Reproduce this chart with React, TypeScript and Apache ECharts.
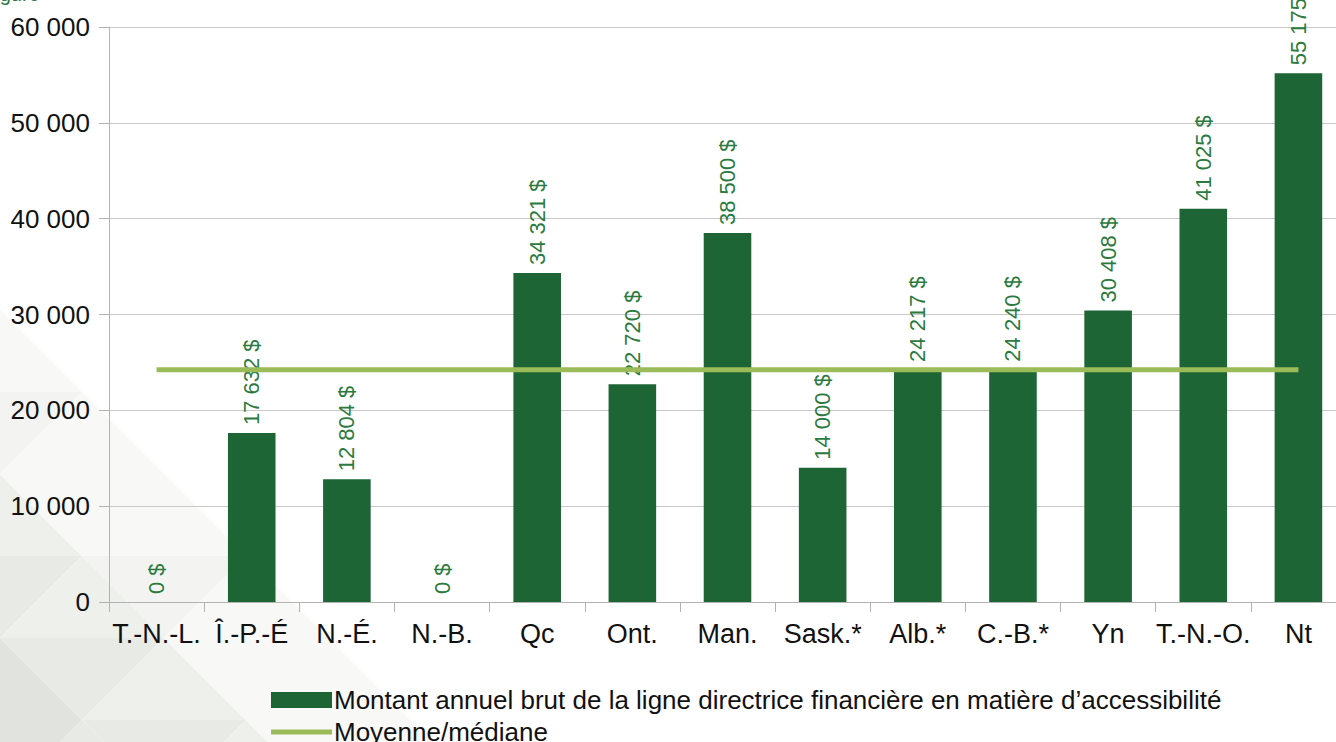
import React, { useEffect, useRef } from "react";
import * as echarts from "echarts";

const categories = ["T.-N.-L.", "Î.-P.-É", "N.-É.", "N.-B.", "Qc", "Ont.", "Man.", "Sask.*", "Alb.*", "C.-B.*", "Yn", "T.-N.-O.", "Nt"];
const amounts = [0, 17632, 12804, 0, 34321, 22720, 38500, 14000, 24217, 24240, 30408, 41025, 55175];
const meanMedian = [24234, 24234, 24234, 24234, 24234, 24234, 24234, 24234, 24234, 24234, 24234, 24234, 24234];
const seriesNames = ["Montant annuel brut de la ligne directrice financière en matière d’accessibilité", "Moyenne/médiane"];
const yTicks = { min: 0, max: 60000, interval: 10000 };

const FONT = "'Liberation Sans', Arial, sans-serif";
const fmt = (v: number) => String(v).replace(/\B(?=(\d{3})+(?!\d))/g, " ");

function mosaic() {
  const els: any[] = [];
  const palette = ["#d9dcd6", "#e1e3df", "#e8eae6", "#eef0ec", "#f3f4f2", "#f8f8f7"];
  const h = 82;
  const w = 164;
  for (let r = 0; r < 7; r++) {
    const yt = 228 + r * h;
    const yb = yt + h;
    const off = (r % 2) * (w / 2);
    for (let k = -2; k < 8; k++) {
      const x0 = k * w + off;
      const tris = [
        [[x0, yb], [x0 + w / 2, yt], [x0 + w, yb]],
        [[x0 + w / 2, yt], [x0 + w, yb], [x0 + (3 * w) / 2, yt]],
      ];
      tris.forEach((pts, j) => {
        const cx = (pts[0][0] + pts[1][0] + pts[2][0]) / 3;
        const cy = (pts[0][1] + pts[1][1] + pts[2][1]) / 3;
        const t = (cy - 280) * 0.85 - cx;
        if (t < 0) return;
        let idx = 5 - Math.floor(t / 75) + ((k + r + j) % 3 === 0 ? 1 : 0);
        idx = Math.max(0, Math.min(5, idx));
        els.push({ type: "polygon", z: -20, silent: true, shape: { points: pts }, style: { fill: palette[idx] } });
      });
    }
  }
  return els;
}

const legendText = { fontSize: 26, color: "#111", fontFamily: FONT, padding: [0, 0, 0, -3] };

export default function App() {
  const ref = useRef<HTMLDivElement>(null);
  useEffect(() => {
    document.body.style.margin = "0";
    const chart = echarts.init(ref.current!, null, { renderer: "svg" });
    chart.setOption({
      animation: false,
      backgroundColor: "#ffffff",
      textStyle: { fontFamily: FONT },
      graphic: [
        ...mosaic(),
        { type: "text", x: -17, y: 4, z: 10, style: { text: "Figure", font: `20px ${FONT}`, fill: "#2b7a40", textVerticalAlign: "bottom" } },
      ],
      grid: { left: 109, top: 27, height: 575, right: 4, containLabel: false },
      legend: [
        {
          left: 266,
          top: 682,
          itemWidth: 61,
          itemHeight: 16,
          textStyle: legendText,
          data: [{ name: seriesNames[0], icon: "rect" }],
        },
        {
          left: 266,
          top: 714,
          itemWidth: 61,
          itemHeight: 5,
          textStyle: legendText,
          data: [{ name: seriesNames[1], icon: "rect" }],
        },
      ],
      xAxis: {
        type: "category",
        data: categories,
        axisLine: { lineStyle: { color: "#b3b3b3", width: 1 } },
        axisTick: { show: true, length: 10, lineStyle: { color: "#b3b3b3" } },
        axisLabel: { fontSize: 27, color: "#111", margin: 18, fontFamily: FONT, interval: 0 },
      },
      yAxis: {
        type: "value",
        min: yTicks.min,
        max: yTicks.max,
        interval: yTicks.interval,
        axisLine: { show: true, lineStyle: { color: "#b3b3b3", width: 1 } },
        axisTick: { show: true, length: 10, lineStyle: { color: "#b3b3b3" } },
        splitLine: { lineStyle: { color: "#c8c8c8", width: 1 } },
        axisLabel: { fontSize: 26, color: "#111", margin: 19, fontFamily: FONT, formatter: (v: number) => fmt(v) },
      },
      series: [
        {
          name: seriesNames[0],
          type: "bar",
          data: amounts,
          barWidth: "50%",
          itemStyle: { color: "#1d6535" },
          label: {
            show: true,
            position: "top",
            rotate: 90,
            align: "left",
            verticalAlign: "middle",
            distance: 8,
            fontSize: 22,
            color: "#2b7a40",
            fontFamily: FONT,
            formatter: (p: any) => fmt(p.value) + " $",
          },
        },
        {
          name: seriesNames[1],
          type: "line",
          data: meanMedian,
          symbol: "none",
          lineStyle: { color: "#9bbb59", width: 5 },
          itemStyle: { color: "#9bbb59" },
          z: 3,
        },
      ],
    });
    return () => chart.dispose();
  }, []);
  return (
    <div style={{ position: "fixed", left: 0, top: 0, width: 1336, height: 742, overflow: "hidden" }}>
      <div ref={ref} style={{ width: 1350, height: 742 }} />
    </div>
  );
}
